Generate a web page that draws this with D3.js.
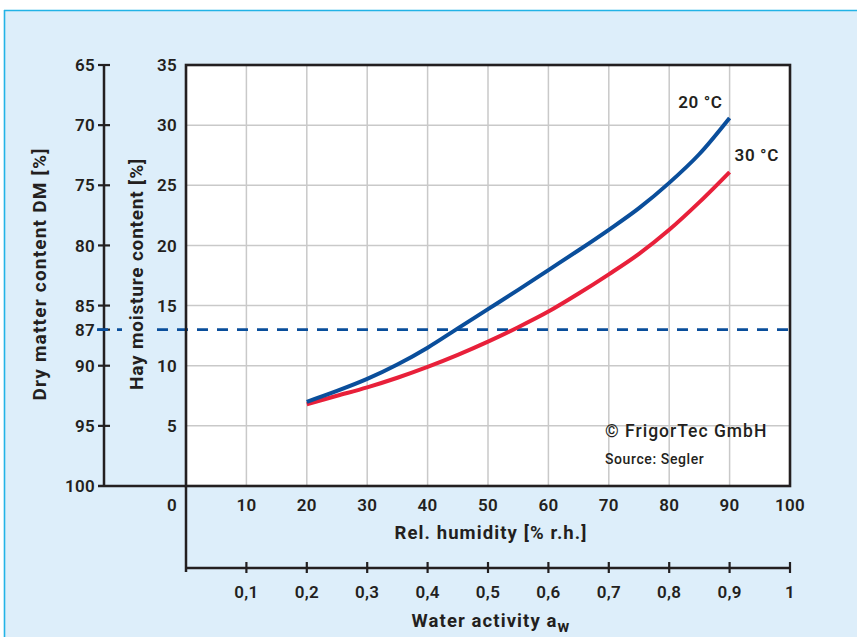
<!DOCTYPE html>
<html><head><meta charset="utf-8">
<script src="https://cdn.jsdelivr.net/npm/d3@7"></script>
<style>
html,body{margin:0;padding:0;background:#fff;}
svg{display:block;font-family:Roboto,"Noto Sans",sans-serif;}
</style></head>
<body>
<svg id="c" width="857" height="637"></svg>
<script>
// ---- data ----
const rh = [20, 25, 30, 35, 40, 45, 50, 55, 60, 65, 70, 75, 80, 85, 90];
const moisture20C = [7.0, 7.9, 8.9, 10.1, 11.5, 13.1, 14.7, 16.3, 17.95, 19.6, 21.3, 23.1, 25.2, 27.6, 30.6];
const moisture30C = [6.8, 7.5, 8.2, 9.0, 9.9, 10.9, 12.0, 13.2, 14.5, 16.0, 17.6, 19.3, 21.3, 23.6, 26.1];
const seriesNames = ["20 °C", "30 °C"];
const moistureTicks = [5, 10, 15, 20, 25, 30, 35];
const dmTicks = [65, 70, 75, 80, 85, 87, 90, 95, 100];
const rhTicks = [0, 10, 20, 30, 40, 50, 60, 70, 80, 90, 100];
const awTicks = [0.1, 0.2, 0.3, 0.4, 0.5, 0.6, 0.7, 0.8, 0.9, 1];
const thresholdMoisture = 13;

const svg = d3.select("#c");
const W = 857, H = 637;
const bg = "#ddeefa", cyan = "#22b3e6", ink = "#231f20", grid = "#c9c9c9";
const blue = "#0a4e9b", red = "#e8203a";

// panel
svg.append("rect").attr("x", 4).attr("y", 10).attr("width", W - 4).attr("height", H - 10).attr("fill", bg);
svg.append("line").attr("x1", 4.5).attr("x2", 4.5).attr("y1", 10).attr("y2", H).attr("stroke", cyan).attr("stroke-width", 1.6);
svg.append("line").attr("x1", 4).attr("x2", W).attr("y1", 10.5).attr("y2", 10.5).attr("stroke", cyan).attr("stroke-width", 1.6);

const x = d3.scaleLinear().domain([0, 100]).range([186, 790]);
const y = d3.scaleLinear().domain([0, 35]).range([486, 65]);
const yDM = d3.scaleLinear().domain([65, 100]).range([65, 486]);
const aw = d3.scaleLinear().domain([0, 1]).range([186, 790]);

// plot background
svg.append("rect").attr("x", x(0)).attr("y", y(35)).attr("width", x(100) - x(0)).attr("height", y(0) - y(35)).attr("fill", "#fff");

// grid
svg.append("g").selectAll("line").data(rhTicks.filter(d => d > 0 && d < 100)).join("line")
  .attr("x1", d => x(d)).attr("x2", d => x(d)).attr("y1", y(35)).attr("y2", y(0))
  .attr("stroke", grid).attr("stroke-width", 1.5);
svg.append("g").selectAll("line").data(moistureTicks.filter(d => d > 0 && d < 35)).join("line")
  .attr("x1", x(0)).attr("x2", x(100)).attr("y1", d => y(d)).attr("y2", d => y(d))
  .attr("stroke", grid).attr("stroke-width", 1.5);

const fs = 17;
const tfs = 18.5, tls = 1.1;
const tickFont = g => g.attr("font-size", fs).attr("font-weight", 600).attr("fill", ink).attr("letter-spacing", 0.3);

// DM axis (left)
const dmX = 104;
svg.append("line").attr("x1", dmX).attr("x2", dmX).attr("y1", yDM(65)).attr("y2", yDM(100)).attr("stroke", ink).attr("stroke-width", 2.5);
svg.append("g").selectAll("line").data(dmTicks.filter(d => d !== 100)).join("line")
  .attr("x1", dmX - 6).attr("x2", dmX + 6).attr("y1", d => yDM(d)).attr("y2", d => yDM(d))
  .attr("stroke", ink).attr("stroke-width", 2.2);
svg.append("line").attr("x1", dmX - 6).attr("x2", x(0)).attr("y1", yDM(100)).attr("y2", yDM(100)).attr("stroke", ink).attr("stroke-width", 2.5);
svg.append("g").call(tickFont).selectAll("text").data(dmTicks).join("text")
  .attr("x", 95).attr("y", d => yDM(d)).attr("dy", "0.36em").attr("text-anchor", "end").text(d => d);

// moisture tick labels
svg.append("g").call(tickFont).selectAll("text").data(moistureTicks).join("text")
  .attr("x", 177).attr("y", d => y(d)).attr("dy", "0.36em").attr("text-anchor", "end").text(d => d);

// threshold dashed line
svg.append("line").attr("x1", 97).attr("x2", x(100)).attr("y1", y(thresholdMoisture)).attr("y2", y(thresholdMoisture))
  .attr("stroke", blue).attr("stroke-width", 2.6).attr("stroke-dasharray", "11,9");

// axis titles (left)
svg.append("text").attr("transform", `translate(46,274) rotate(-90)`).attr("text-anchor", "middle")
  .attr("font-size", 19).attr("letter-spacing", 1.2).attr("font-weight", 700).attr("fill", ink).text("Dry matter content DM [%]");
const hayG = svg.append("g");
const t2 = svg.append("text").attr("transform", `translate(143,274) rotate(-90)`).attr("text-anchor", "middle")
  .attr("font-size", 19).attr("letter-spacing", 0.8).attr("font-weight", 700).attr("fill", ink).text("Hay moisture content [%]");
{
  const b = t2.node().getBBox();
  hayG.append("rect").attr("transform", `translate(143,274) rotate(-90)`)
    .attr("x", b.x - 2).attr("y", b.y - 3).attr("width", b.width + 4).attr("height", b.height + 8).attr("fill", bg);
}

// curves
const line = d3.line().x(d => x(d[0])).y(d => y(d[1])).curve(d3.curveMonotoneX);
const s30 = rh.map((r, i) => [r, moisture30C[i]]);
const s20 = rh.map((r, i) => [r, moisture20C[i]]);
svg.append("path").attr("d", line(s30)).attr("fill", "none").attr("stroke", red).attr("stroke-width", 4);
svg.append("path").attr("d", line(s20)).attr("fill", "none").attr("stroke", blue).attr("stroke-width", 4);

// series labels
svg.append("text").attr("x", x(90) - 7).attr("y", y(moisture20C[moisture20C.length - 1]) - 10)
  .attr("text-anchor", "end").attr("font-size", fs).attr("letter-spacing", 0.6).attr("font-weight", 600).attr("fill", ink).text(seriesNames[0]);
svg.append("text").attr("x", x(90) + 5).attr("y", y(moisture30C[moisture30C.length - 1]) - 11)
  .attr("text-anchor", "start").attr("font-size", fs).attr("letter-spacing", 0.6).attr("font-weight", 600).attr("fill", ink).text(seriesNames[1]);

// copyright
svg.append("text").attr("x", 605).attr("y", 437).attr("font-size", 17.5).attr("letter-spacing", 1).attr("font-weight", 500).attr("fill", ink).text("© FrigorTec GmbH");
svg.append("text").attr("x", 605).attr("y", 464).attr("font-size", 14).attr("letter-spacing", 0.6).attr("font-weight", 500).attr("fill", ink).text("Source: Segler");

// plot border
svg.append("rect").attr("x", x(0)).attr("y", y(35)).attr("width", x(100) - x(0)).attr("height", y(0) - y(35))
  .attr("fill", "none").attr("stroke", ink).attr("stroke-width", 2.6);

// RH tick labels
svg.append("g").call(tickFont).selectAll("text").data(rhTicks).join("text")
  .attr("x", d => d === 0 ? x(0) - 14 : x(d)).attr("y", 511).attr("text-anchor", "middle").text(d => d);
svg.append("text").attr("x", 491).attr("y", 539).attr("text-anchor", "middle").attr("font-size", tfs).attr("letter-spacing", tls).attr("font-weight", 700).attr("fill", ink).text("Rel. humidity [% r.h.]");

// aw axis
const awY = 568;
svg.append("line").attr("x1", x(0)).attr("x2", x(0)).attr("y1", y(0)).attr("y2", awY + 4).attr("stroke", ink).attr("stroke-width", 2.5);
svg.append("line").attr("x1", aw(0)).attr("x2", aw(1)).attr("y1", awY).attr("y2", awY).attr("stroke", ink).attr("stroke-width", 2.5);
svg.append("g").selectAll("line").data(awTicks).join("line")
  .attr("x1", d => aw(d)).attr("x2", d => aw(d)).attr("y1", awY - 6).attr("y2", awY + 5).attr("stroke", ink).attr("stroke-width", 2.2);
svg.append("g").call(tickFont).selectAll("text").data(awTicks).join("text")
  .attr("x", d => aw(d)).attr("y", 598).attr("text-anchor", "middle").text(d => String(d).replace(".", ","));
const wt = svg.append("text").attr("x", 491).attr("y", 627).attr("text-anchor", "middle").attr("font-size", tfs).attr("letter-spacing", tls).attr("font-weight", 700).attr("fill", ink);
wt.append("tspan").text("Water activity a");
wt.append("tspan").attr("dy", 5).attr("font-size", 16).text("w");
</script>
</body></html>
